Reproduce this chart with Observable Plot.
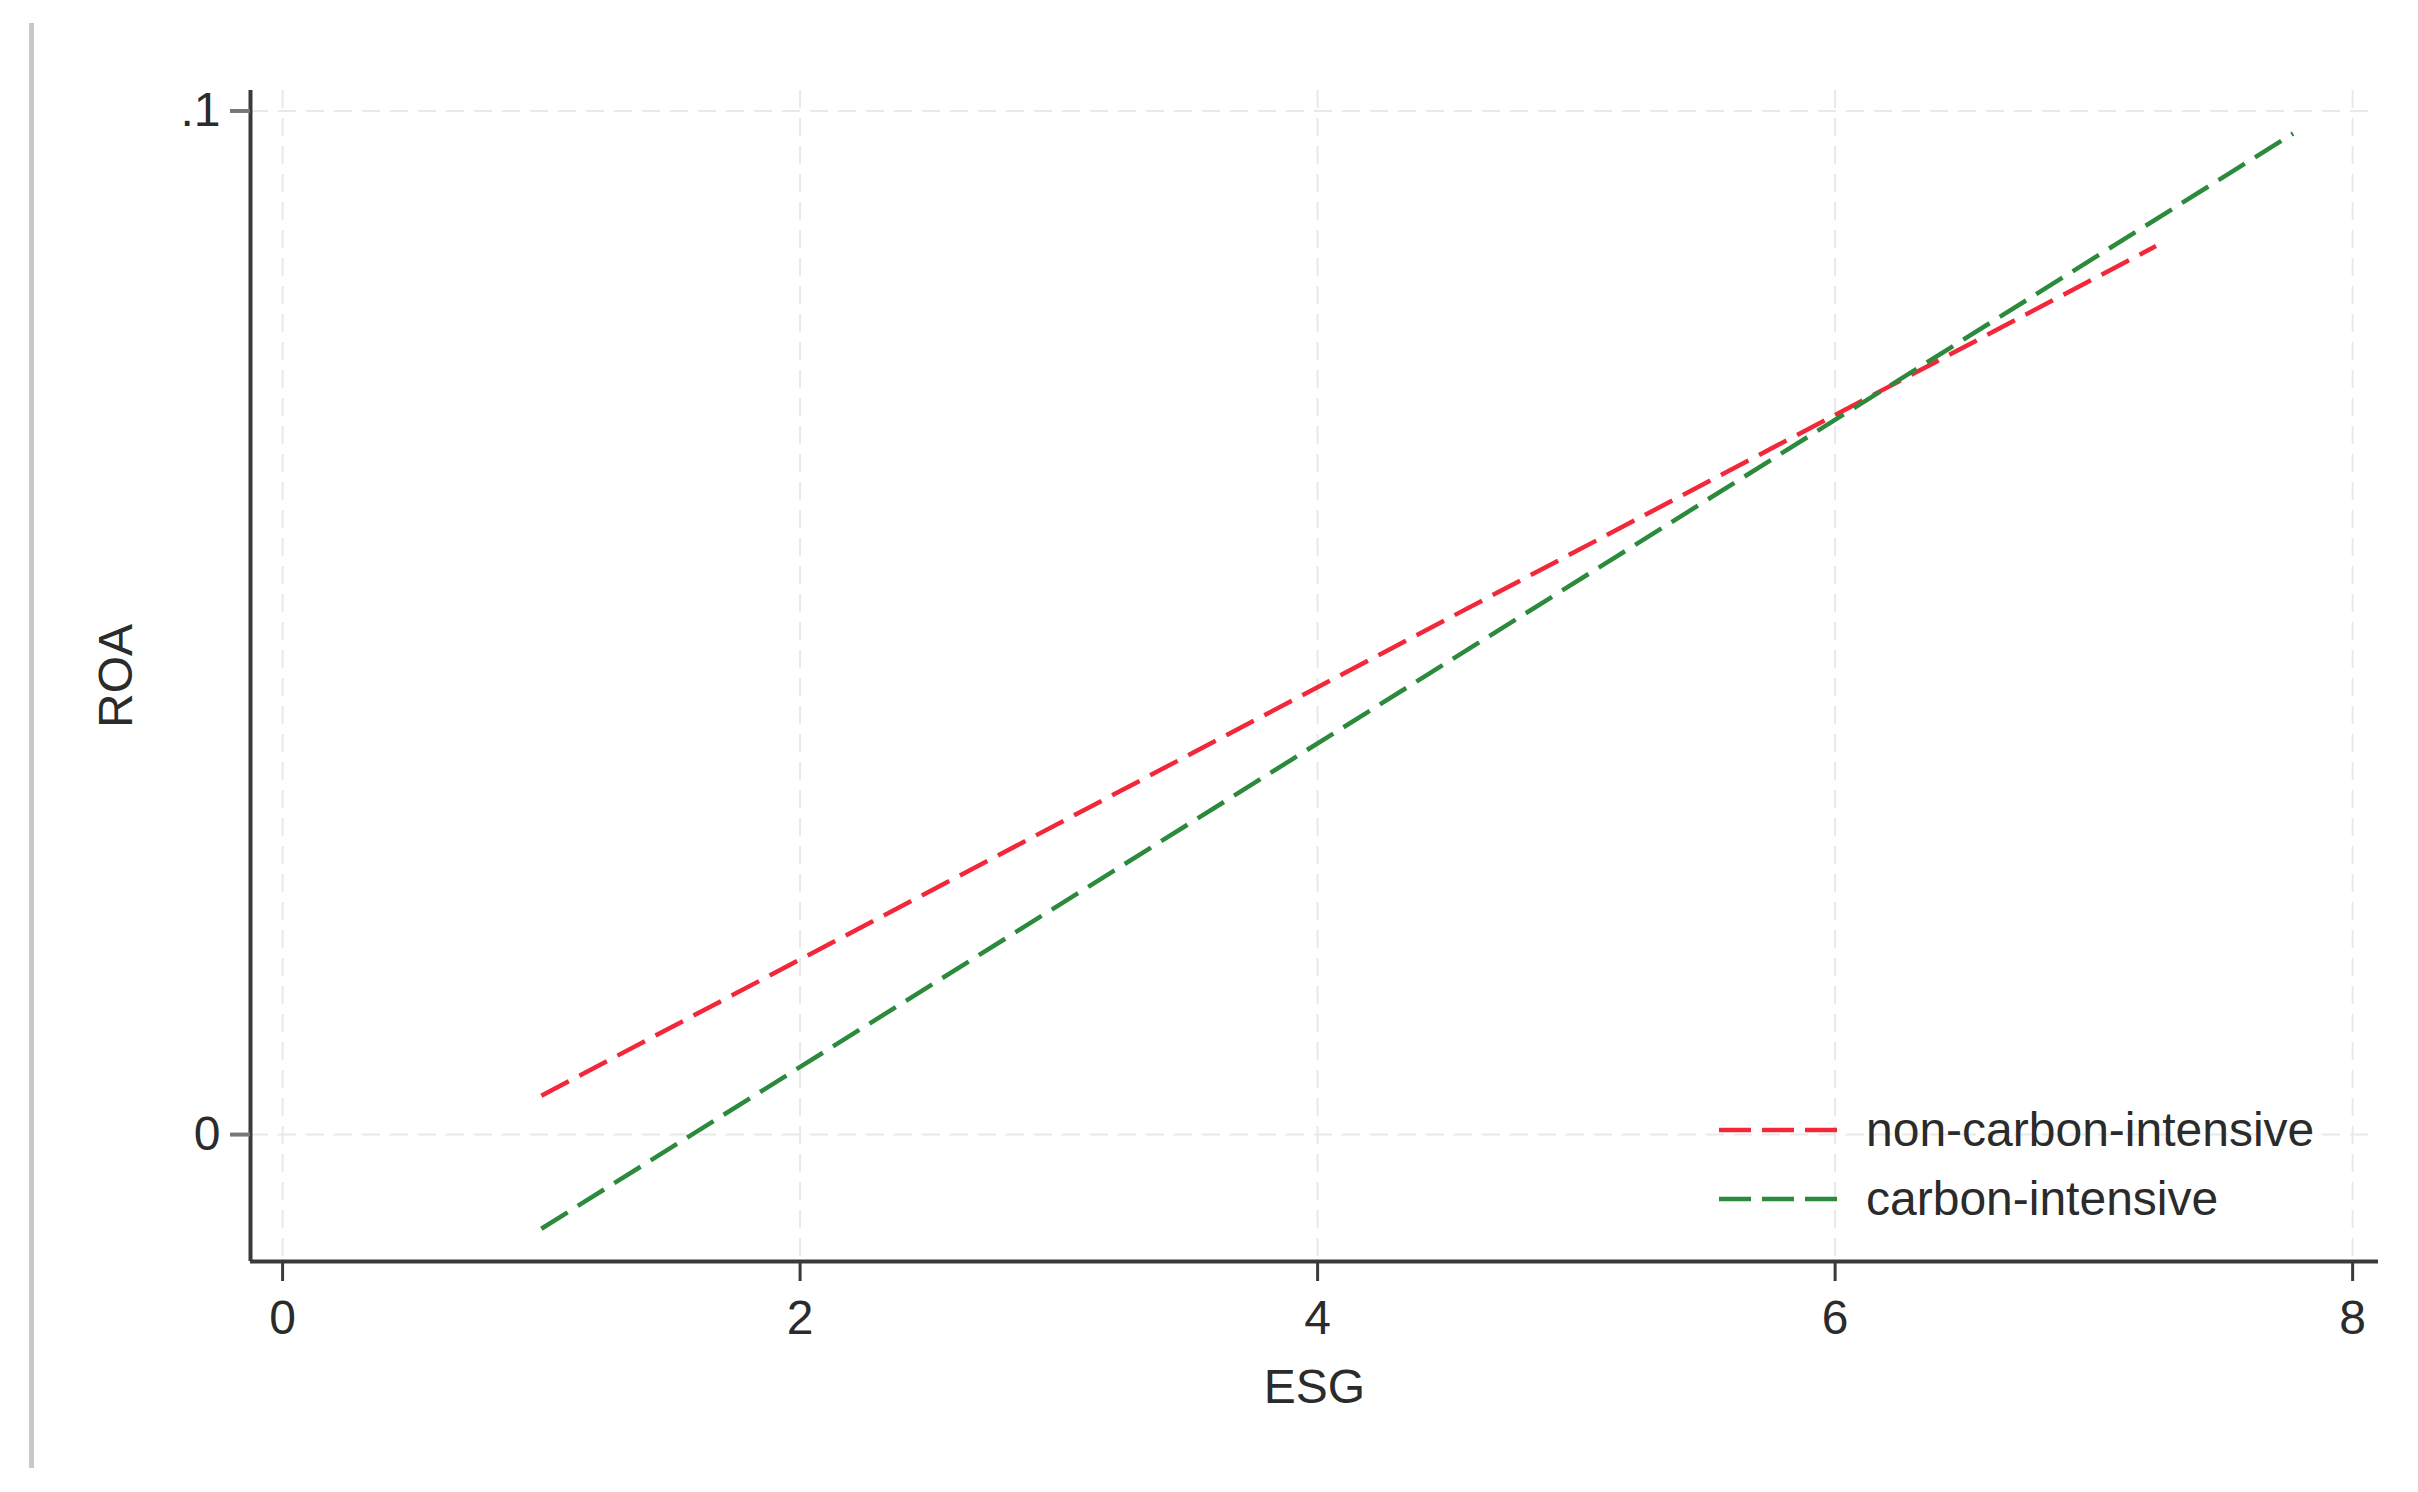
<!DOCTYPE html>
<html>
<head>
<meta charset="utf-8">
<script src="https://cdn.jsdelivr.net/npm/d3@7"></script>
<script src="https://cdn.jsdelivr.net/npm/@observablehq/plot@0.6"></script>
<style>
  html, body { margin: 0; padding: 0; background: #fff; }
  #wrap { position: relative; width: 2418px; height: 1492px; overflow: hidden; font-family: "Liberation Sans", Arial, sans-serif; }
  #bar { position: absolute; left: 29px; top: 23px; width: 5px; height: 1445px; background: #c4c9c9; }
  #legend { position: absolute; left: 1719px; top: 1095px; font-size: 48px; color: #2b2b2b; }
  .item { display: flex; align-items: center; height: 69px; }
  .item svg { width: 120px; height: 10px; margin-right: 27px; }
</style>
</head>
<body>
<div id="wrap"><div id="bar"></div><div id="chart"></div><div id="legend"></div></div>
<script>
// Data (fitted lines)
const seriesNames = ["non-carbon-intensive", "carbon-intensive"];
const seriesColors = ["#f2283a", "#2b8a3c"];
const esgNonCarbon = [1.0, 7.24];
const roaNonCarbon = [0.0038, 0.0868];
const esgCarbon = [1.0, 7.77];
const roaCarbon = [-0.0092, 0.0978];
const xTicks = [0, 2, 4, 6, 8];
const yTicks = [0, 0.1];
const yTickLabels = ["0", ".1"];

const rows = [
  ...esgNonCarbon.map((e, i) => ({esg: e, roa: roaNonCarbon[i], group: seriesNames[0]})),
  ...esgCarbon.map((e, i) => ({esg: e, roa: roaCarbon[i], group: seriesNames[1]}))
];

const xDomain = [-0.124, 8.1];
const yDomain = [-0.0124, 0.102];
const axisColor = "#3a3a3a";
const dash = "31,12";

const chart = Plot.plot({
  width: 2418,
  height: 1492,
  marginLeft: 250,
  marginRight: 40,
  marginTop: 90,
  marginBottom: 231,
  style: {fontFamily: "Liberation Sans, Arial, sans-serif", fontSize: "48px", color: "#2b2b2b", background: "#fff"},
  x: {domain: xDomain},
  y: {domain: yDomain},
  marks: [
    Plot.gridX(xTicks, {stroke: "#e9e9e9", strokeOpacity: 1, strokeWidth: 2, strokeDasharray: "18,10"}),
    Plot.gridY(yTicks, {stroke: "#e9e9e9", strokeOpacity: 1, strokeWidth: 2, strokeDasharray: "18,10"}),
    Plot.ruleX([xDomain[0]], {stroke: axisColor, strokeWidth: 4}),
    Plot.ruleY([yDomain[0]], {stroke: axisColor, strokeWidth: 4}),
    Plot.axisX({ticks: xTicks, tickSize: 20, tickPadding: 18, stroke: axisColor, strokeWidth: 3, fontSize: 48,
      label: "ESG", labelAnchor: "center", labelOffset: 141, labelArrow: "none"}),
    Plot.axisY({ticks: yTicks, tickSize: 20, tickPadding: 10, stroke: "#777", strokeWidth: 4, fontSize: 48,
      tickFormat: (d) => yTickLabels[yTicks.indexOf(d)],
      label: "ROA", labelAnchor: "center", labelOffset: 153, labelArrow: "none"}),
    Plot.line(rows, {x: "esg", y: "roa", z: "group",
      stroke: (d) => seriesColors[seriesNames.indexOf(d.group)],
      strokeWidth: 4.5, strokeDasharray: dash, strokeLinecap: "butt"})
  ]
});
document.getElementById("chart").appendChild(chart);

const legend = document.getElementById("legend");
seriesNames.forEach((name, i) => {
  const item = document.createElement("div");
  item.className = "item";
  item.innerHTML = `<svg viewBox="0 0 120 10"><line x1="0" y1="5" x2="118" y2="5" stroke="${seriesColors[i]}" stroke-width="4.5" stroke-dasharray="32,11"/></svg><span>${name}</span>`;
  legend.appendChild(item);
});
</script>
</body>
</html>
